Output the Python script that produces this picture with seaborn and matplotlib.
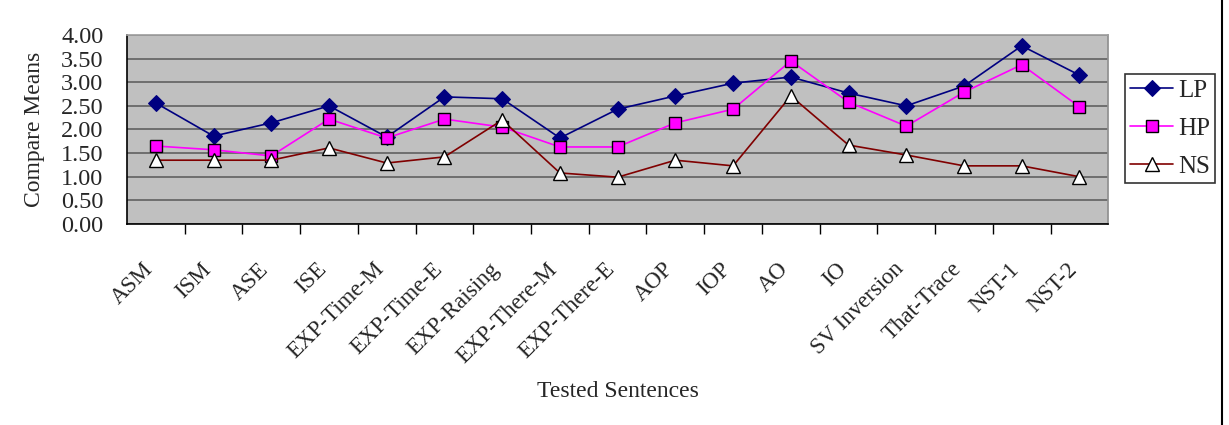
import numpy as np
import pandas as pd
import matplotlib.pyplot as plt
import matplotlib.transforms as mtransforms
from matplotlib.lines import Line2D
import seaborn as sns

sns.set_theme(style="white")
plt.rcParams['font.family'] = ['Liberation Serif', 'DejaVu Serif']

sentences = ['ASM', 'ISM', 'ASE', 'ISE', 'EXP-Time-M', 'EXP-Time-E', 'EXP-Raising',
             'EXP-There-M', 'EXP-There-E', 'AOP', 'IOP', 'AO', 'IO', 'SV Inversion',
             'That-Trace', 'NST-1', 'NST-2']
lp = [2.56, 1.86, 2.14, 2.50, 1.84, 2.69, 2.65, 1.82, 2.43, 2.71, 2.98, 3.11, 2.77, 2.50, 2.92, 3.77, 3.15]
hp = [1.65, 1.57, 1.44, 2.22, 1.82, 2.22, 2.05, 1.63, 1.63, 2.14, 2.43, 3.45, 2.58, 2.07, 2.79, 3.37, 2.48]
ns = [1.35, 1.35, 1.35, 1.61, 1.29, 1.42, 2.20, 1.08, 0.99, 1.35, 1.23, 2.71, 1.67, 1.46, 1.23, 1.23, 1.00]
y_ticks = [0.0, 0.5, 1.0, 1.5, 2.0, 2.5, 3.0, 3.5, 4.0]

pos = np.arange(len(sentences))
df = pd.DataFrame({'pos': pos, 'LP': lp, 'HP': hp, 'NS': ns})

fig = plt.figure(figsize=(12.29, 4.25), dpi=100)
ax = fig.add_axes([0.1033, 0.473, 0.7985, 0.4447])
ax.set_facecolor('#C0C0C0')

sns.lineplot(data=df, x='pos', y='LP', ax=ax, color='#000080', lw=1.2,
             marker='D', markersize=8.5, markerfacecolor='#000080',
             markeredgecolor='#000080', label='LP')
sns.lineplot(data=df, x='pos', y='HP', ax=ax, color='#FF00FF', lw=1.2,
             marker='s', markersize=8, markerfacecolor='#FF00FF',
             markeredgecolor='black', markeredgewidth=1, label='HP')
sns.lineplot(data=df, x='pos', y='NS', ax=ax, color='#800000', lw=1.2,
             marker='^', markersize=9.5, markerfacecolor='white',
             markeredgecolor='black', markeredgewidth=1, label='NS')

ax.set_xlim(-0.5, len(sentences) - 0.5)
ax.set_ylim(0, 4)
ax.set_yticks(y_ticks)
ax.set_yticklabels([f'{v:.2f}' for v in y_ticks], fontsize=17.5)
ax.yaxis.grid(True, color='#686868', lw=1.3)
ax.xaxis.grid(False)
ax.set_axisbelow(True)

ax.set_xticks(pos)
ax.set_xticklabels(sentences, fontsize=16.5, rotation=45, ha='right', va='top',
                   rotation_mode='anchor')
ax.set_xticks(pos[:-1] + 0.5, minor=True)
ax.tick_params(axis='x', which='major', length=0, pad=25)
ax.tick_params(axis='x', which='minor', length=7, width=1, color='black',
               direction='out', bottom=True)
ax.tick_params(axis='y', length=0, pad=17)
offset = mtransforms.ScaledTranslation(-13 / 100, 0, fig.dpi_scale_trans)
for lab in ax.get_xticklabels():
    lab.set_transform(lab.get_transform() + offset)

for side in ['left', 'bottom']:
    ax.spines[side].set_color('black')
    ax.spines[side].set_linewidth(1.2)
ax.spines['top'].set_color('#A0A0A0')
ax.spines['right'].set_color('#909090')

ax.set_xlabel('Tested Sentences', fontsize=17, labelpad=10)
ax.set_ylabel('Compare Means', fontsize=17, labelpad=11)

leg = ax.legend(loc='center left', bbox_to_anchor=(1.017, 0.505), fontsize=18,
                frameon=True, fancybox=False, edgecolor='black',
                handlelength=1.7, labelspacing=0.62, borderpad=0.22,
                handletextpad=0.2, borderaxespad=0)
leg.get_frame().set_linewidth(1.2)

fig.add_artist(Line2D([0.9942, 0.9942], [0, 1], color='black', lw=1.5,
                      transform=fig.transFigure))

fig.savefig('out.png', dpi=100)
